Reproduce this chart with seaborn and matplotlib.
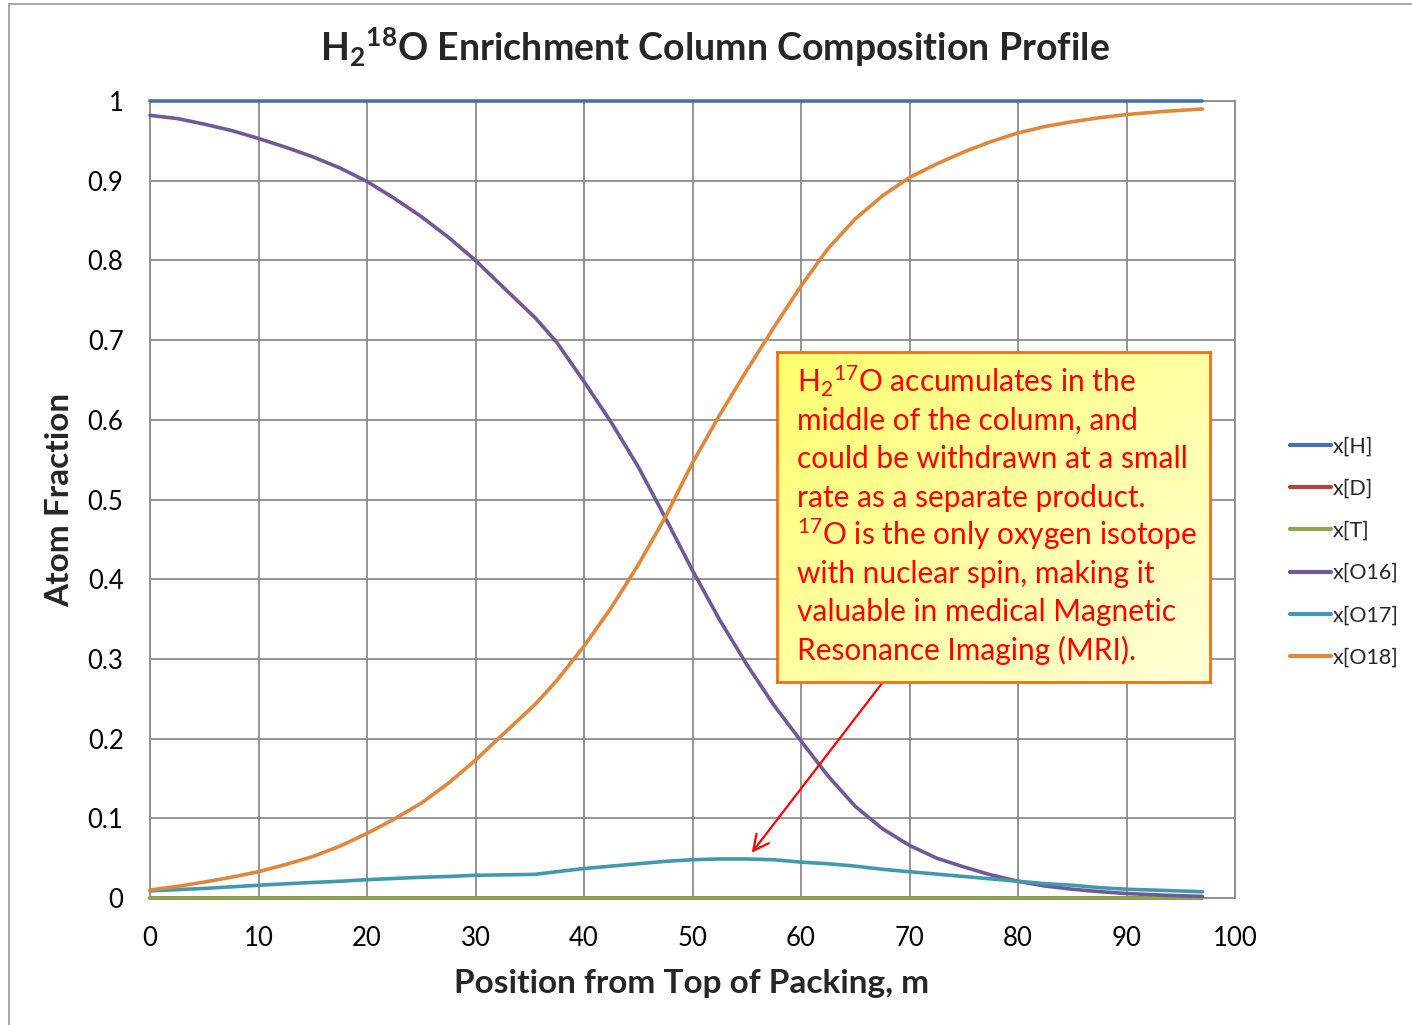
import numpy as np
import pandas as pd
import seaborn as sns
import matplotlib
matplotlib.use("Agg")
import matplotlib.pyplot as plt
from matplotlib.lines import Line2D

# ---------------- data ----------------
position = [0, 2.5, 5, 7.5, 10, 12.5, 15, 17.5, 20, 22.5, 25, 27.5, 30, 32.5, 35.5,
            37.5, 40, 42.5, 45, 47.5, 50, 52.5, 55, 57.5, 60, 62.5, 65, 67.5, 70,
            72.5, 75, 77.5, 80, 82.5, 85, 87.5, 90, 93.5, 97]
x_H = [1.0] * len(position)
x_D = [0.0] * len(position)
x_T = [0.0] * len(position)
x_O16 = [0.982, 0.978, 0.971, 0.963, 0.953, 0.942, 0.930, 0.916, 0.899, 0.878, 0.855,
         0.829, 0.800, 0.767, 0.728, 0.697, 0.648, 0.597, 0.541, 0.477, 0.411, 0.349,
         0.293, 0.242, 0.197, 0.153, 0.115, 0.087, 0.066, 0.050, 0.039, 0.029, 0.021,
         0.015, 0.011, 0.008, 0.0056, 0.0035, 0.002]
x_O17 = [0.009, 0.0105, 0.012, 0.014, 0.016, 0.0178, 0.0195, 0.021, 0.023, 0.0245,
         0.026, 0.027, 0.0285, 0.029, 0.0297, 0.033, 0.037, 0.040, 0.043, 0.046, 0.048,
         0.049, 0.049, 0.048, 0.045, 0.043, 0.040, 0.036, 0.033, 0.030, 0.027, 0.024,
         0.021, 0.018, 0.016, 0.013, 0.011, 0.0095, 0.0078]
x_O18 = [0.010, 0.0145, 0.020, 0.026, 0.033, 0.042, 0.052, 0.065, 0.081, 0.099, 0.119,
         0.144, 0.173, 0.205, 0.243, 0.273, 0.316, 0.364, 0.418, 0.478, 0.546, 0.606,
         0.662, 0.716, 0.768, 0.815, 0.852, 0.881, 0.904, 0.921, 0.936, 0.949, 0.960,
         0.968, 0.974, 0.979, 0.983, 0.987, 0.990]

series_names = ["x[H]", "x[D]", "x[T]", "x[O16]", "x[O17]", "x[O18]"]
series_values = [x_H, x_D, x_T, x_O16, x_O17, x_O18]
series_colors = ["#4672AC", "#AE4440", "#8BA84C", "#6E5A94", "#4199B0", "#E1873B"]

x_ticks = [0, 10, 20, 30, 40, 50, 60, 70, 80, 90, 100]
y_ticks = [0, 0.1, 0.2, 0.3, 0.4, 0.5, 0.6, 0.7, 0.8, 0.9, 1.0]
y_ticklabels = ["0", "0.1", "0.2", "0.3", "0.4", "0.5", "0.6", "0.7", "0.8", "0.9", "1"]

note_lines = ["H$_2$$^{17}$O accumulates in the",
              "middle of the column, and",
              "could be withdrawn at a small",
              "rate as a separate product.",
              "$^{17}$O is the only oxygen isotope",
              "with nuclear spin, making it",
              "valuable in medical Magnetic",
              "Resonance Imaging (MRI)."]

# --------------- build table -------------
rows = []
for name, vals in zip(series_names, series_values):
    for p, v in zip(position, vals):
        rows.append({"pos": p, "frac": v, "series": name})
df = pd.DataFrame(rows)

# --------------- style -------------------
sns.set_theme(style="white")
plt.rcParams["font.family"] = ["Lato", "DejaVu Sans"]
plt.rcParams["mathtext.fontset"] = "custom"
plt.rcParams["mathtext.rm"] = "Lato"
plt.rcParams["mathtext.it"] = "Lato:italic"
plt.rcParams["mathtext.bf"] = "Lato:bold"

W, H = 1412, 1025
fig = plt.figure(figsize=(W / 100, H / 100), dpi=100)
fig.patch.set_facecolor("white")

L, R, T, B = 150, 1235, 101, 898
ax = fig.add_axes([L / W, 1 - B / H, (R - L) / W, (B - T) / H])

sns.lineplot(data=df, x="pos", y="frac", hue="series", hue_order=series_names,
             palette=dict(zip(series_names, series_colors)), linewidth=2.6,
             ax=ax, legend=False, estimator=None, sort=False)
for ln in ax.get_lines():
    ln.set_solid_capstyle("round")
    ln.set_solid_joinstyle("round")
    ln.set_clip_on(False)
    ln.set_zorder(3)

ax.set_xlim(0, 100)
ax.set_ylim(0, 1)
ax.set_xticks(x_ticks)
ax.set_yticks(y_ticks)
ax.set_yticklabels(y_ticklabels)
ax.tick_params(axis="both", length=0, labelsize=18.5, colors="black")
ax.tick_params(axis="y", pad=19)
ax.tick_params(axis="x", pad=20)
ax.grid(True, color="#8C8C8C", linewidth=1.3)
ax.set_axisbelow(True)
for s in ax.spines.values():
    s.set_color("#8C8C8C")
    s.set_linewidth(1.3)
    s.set_zorder(1)
ax.set_xlabel("")
ax.set_ylabel("")

# labels and title
fig.text(715 / W, 1 - 47 / H, r"H$_\mathbf{2}$$^\mathbf{18}$O Enrichment Column Composition Profile",
         ha="center", va="center", fontsize=27, fontweight="bold")
fig.text(692 / W, 1 - 983 / H, "Position from Top of Packing, m",
         ha="center", va="center", fontsize=24, fontweight="bold")
fig.text(60 / W, 1 - 500 / H, "Atom Fraction", rotation=90,
         ha="center", va="center", fontsize=24, fontweight="bold")

# legend
handles = [Line2D([0], [0], color=c, lw=3, solid_capstyle="round") for c in series_colors]
leg = fig.legend(handles, series_names, loc="upper left",
                 bbox_to_anchor=(1281 / W, 1 - 428 / H), frameon=False,
                 fontsize=15.5, handlelength=1.9, handletextpad=0.12,
                 labelspacing=1.03, borderaxespad=0)

# annotation box with gradient
bx0, by0, bx1, by1 = 777, 352, 1210, 682
box_ax = fig.add_axes([bx0 / W, 1 - by1 / H, (bx1 - bx0) / W, (by1 - by0) / H])
gy, gx = np.mgrid[0:1:100j, 0:1:100j]
t = (gx + gy) / 2.0
c0 = np.array([255, 255, 110]) / 255.0
c1 = np.array([255, 255, 215]) / 255.0
img = c0[None, None, :] * (1 - t[..., None]) + c1[None, None, :] * t[..., None]
box_ax.imshow(img, extent=[0, 1, 0, 1], aspect="auto", origin="upper")
box_ax.set_xlim(0, 1)
box_ax.set_ylim(0, 1)
box_ax.set_xticks([])
box_ax.set_yticks([])
for s in box_ax.spines.values():
    s.set_color("#FF6A10")
    s.set_linewidth(2)
for i, line in enumerate(note_lines):
    base_px = 391.7 + i * 38.3
    fig.text(797 / W, 1 - base_px / H, line, color="#FF0000", fontsize=21.5,
             ha="left", va="baseline", zorder=20)

# arrow
ax.annotate("", xy=(55.3, 0.054), xytext=(67.7, 0.2735),
            arrowprops=dict(arrowstyle="->", color="#FF0000", lw=1.6,
                            mutation_scale=28), zorder=10)

# outer frame lines (top and left)
fig.add_artist(Line2D([9 / W, 9 / W], [0, 1 - 4 / H], transform=fig.transFigure,
                      color="#A0A0A0", lw=1.3))
fig.add_artist(Line2D([9 / W, 1], [1 - 4 / H, 1 - 4 / H], transform=fig.transFigure,
                      color="#A0A0A0", lw=1.3))

fig.savefig("out.png", dpi=100, facecolor="white")
